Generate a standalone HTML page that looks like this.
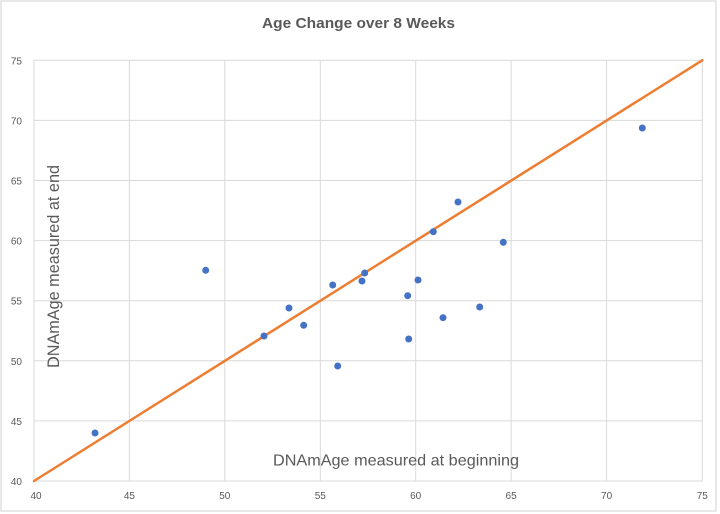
<!DOCTYPE html>
<html>
<head>
<meta charset="utf-8">
<style>
  html, body { margin: 0; padding: 0; background: #ffffff; }
  svg { display: block; }
  text { font-family: "Liberation Sans", "DejaVu Sans", sans-serif; fill: #595959; }
</style>
</head>
<body>
<svg width="720" height="514" viewBox="0 0 720 514" xmlns="http://www.w3.org/2000/svg">
  <rect x="0" y="0" width="720" height="514" fill="#ffffff"/>
  <rect x="1" y="1" width="715" height="510" fill="none" stroke="#d9d9d9" stroke-width="1.2"/>

  <!-- title -->
  <text x="358.5" y="28" font-size="14.5" font-weight="bold" text-anchor="middle" textLength="193" lengthAdjust="spacingAndGlyphs">Age Change over 8 Weeks</text>

  <!-- grid -->
  <g stroke="#d9d9d9" stroke-width="1">
    <line x1="34" y1="60.3" x2="34" y2="481"/>
    <line x1="129.4" y1="60.3" x2="129.4" y2="481"/>
    <line x1="224.8" y1="60.3" x2="224.8" y2="481"/>
    <line x1="320.3" y1="60.3" x2="320.3" y2="481"/>
    <line x1="415.7" y1="60.3" x2="415.7" y2="481"/>
    <line x1="511.1" y1="60.3" x2="511.1" y2="481"/>
    <line x1="606.6" y1="60.3" x2="606.6" y2="481"/>
    <line x1="702.3" y1="60.3" x2="702.3" y2="481"/>

    <line x1="34" y1="60.3" x2="702.3" y2="60.3"/>
    <line x1="34" y1="120.4" x2="702.3" y2="120.4"/>
    <line x1="34" y1="180.5" x2="702.3" y2="180.5"/>
    <line x1="34" y1="240.6" x2="702.3" y2="240.6"/>
    <line x1="34" y1="300.7" x2="702.3" y2="300.7"/>
    <line x1="34" y1="360.8" x2="702.3" y2="360.8"/>
    <line x1="34" y1="420.9" x2="702.3" y2="420.9"/>
    <line x1="34" y1="481" x2="702.3" y2="481"/>
  </g>

  <!-- y tick labels -->
  <g font-size="10" text-anchor="end">
    <text x="22" y="64.3">75</text>
    <text x="22" y="124.4">70</text>
    <text x="22" y="184.5">65</text>
    <text x="22" y="244.6">60</text>
    <text x="22" y="304.7">55</text>
    <text x="22" y="364.8">50</text>
    <text x="22" y="424.9">45</text>
    <text x="22" y="485">40</text>
  </g>

  <!-- x tick labels -->
  <g font-size="10" text-anchor="middle">
    <text x="36" y="499">40</text>
    <text x="129.4" y="499">45</text>
    <text x="224.8" y="499">50</text>
    <text x="320.3" y="499">55</text>
    <text x="415.7" y="499">60</text>
    <text x="511.1" y="499">65</text>
    <text x="606.6" y="499">70</text>
    <text x="702.3" y="499">75</text>
  </g>

  <!-- axis titles -->
  <text x="273" y="465.5" font-size="16" textLength="246" lengthAdjust="spacingAndGlyphs">DNAmAge measured at beginning</text>
  <text transform="translate(59,368) rotate(-90)" x="0" y="0" font-size="16.5" textLength="203" lengthAdjust="spacingAndGlyphs">DNAmAge measured at end</text>

  <!-- diagonal line -->
  <line x1="34" y1="481" x2="702.3" y2="60.3" stroke="#ED7D31" stroke-width="2.5" stroke-linecap="round"/>

  <!-- points -->
  <g fill="#4472C4">
    <circle cx="95" cy="433" r="3.5"/>
    <circle cx="205.7" cy="270.3" r="3.5"/>
    <circle cx="264" cy="336" r="3.5"/>
    <circle cx="289" cy="308" r="3.5"/>
    <circle cx="303.7" cy="325.3" r="3.5"/>
    <circle cx="332.7" cy="285" r="3.5"/>
    <circle cx="337.7" cy="366" r="3.5"/>
    <circle cx="362" cy="281" r="3.5"/>
    <circle cx="364.7" cy="273" r="3.5"/>
    <circle cx="408.7" cy="339" r="3.5"/>
    <circle cx="407.7" cy="295.7" r="3.5"/>
    <circle cx="418" cy="280" r="3.5"/>
    <circle cx="433.3" cy="231.7" r="3.5"/>
    <circle cx="443" cy="317.7" r="3.5"/>
    <circle cx="458" cy="202" r="3.5"/>
    <circle cx="479.7" cy="307" r="3.5"/>
    <circle cx="503.3" cy="242.3" r="3.5"/>
    <circle cx="642.3" cy="128" r="3.5"/>
  </g>
</svg>
</body>
</html>
